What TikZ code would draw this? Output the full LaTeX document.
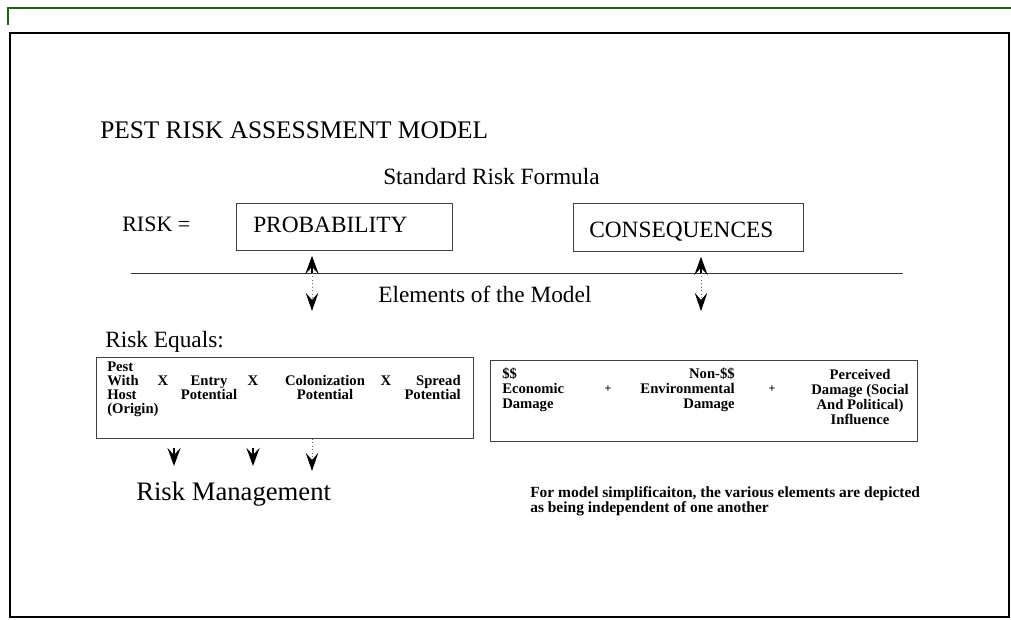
\documentclass[tikz,border=0pt]{standalone}
\usepackage{fontspec}
\setmainfont{Liberation Serif}
\usepackage{tikz}
\usetikzlibrary{arrows.meta}
\definecolor{framegreen}{RGB}{30,100,20}

\begin{document}
\begin{tikzpicture}[x=0.75pt,y=-0.75pt]
\tikzset{>={Stealth[width=3.5mm,length=4.8mm,inset=1.9mm]}}
\tikzstyle{box} =[draw=black!75, line width=0.6pt, inner sep=0pt]
\tikzstyle{big} =[inner sep=0pt, font=\fontsize{17.5}{21}\selectfont]
\tikzstyle{small} =[inner sep=0pt, font=\fontsize{11}{10.5}\selectfont\bfseries]
\tikzstyle{dots} =[dotted, black!60, line width=0.6pt, -{Stealth[width=3.3mm,length=4.8mm,inset=1.9mm,color=black]}]

\useasboundingbox (0,0) rectangle (1011,619);
\draw[framegreen, line width=0.8pt] (8,25) -- (8,8) -- (1011,8);
\draw[line width=0.8pt] (10,33) rectangle (1009,617);
\draw[line width=1.6pt] (10,33) -- (1009,33);

\node[big, anchor=base west, font=\fontsize{19}{23}\selectfont] (title) at (100,138) {PEST RISK ASSESSMENT MODEL};
\node[big, anchor=base west] (formula) at (383,184) {Standard Risk Formula};
\node[big, anchor=base west, font=\fontsize{16.5}{20}\selectfont] (risk) at (122,231) {RISK =};

\node[box, minimum width=162pt, minimum height=35.25pt, anchor=north west] (prob) at (236,203) {};
\node[big, anchor=base west] (probtxt) at (253,232) {PROBABILITY};
\node[box, minimum width=172.5pt, minimum height=36pt, anchor=north west] (cons) at (573,203) {};
\node[big, anchor=base west] (constxt) at (589,237) {CONSEQUENCES};

\coordinate (lineL) at (131,273);
\coordinate (lineR) at (903,273);
\draw[line width=0.7pt, black!80] (lineL) -- (lineR);

\node[big, anchor=base west] (elements) at (378,302) {Elements of the Model};
\node[big, anchor=base west] (equals) at (105,347) {Risk Equals:};

% arrows through the line
\coordinate (pmid) at (312,273);
\coordinate (pdown) at (312,311);
\coordinate (cmid) at (701,273);
\coordinate (cdown) at (701,311);
\draw[->, thick] (pmid) -- ([yshift=-3.75pt]prob.south -| pmid);
\draw[->, thick] (cmid) -- ([yshift=-3.75pt]cons.south -| cmid);
\draw[dots] (pmid) -- (pdown);
\draw[dots] (cmid) -- (cdown);

% the two element boxes
\node[box, minimum width=282.75pt, minimum height=60.75pt, anchor=north west] (pestbox) at (96,357) {};
\node[box, minimum width=320.25pt, minimum height=60.75pt, anchor=north west] (dmgbox) at (490,360) {};

\node[small, align=left, anchor=base west] (pest) at (107,413) {Pest\\With\\Host\\(Origin)};
\node[small, anchor=base] (x1) at (163,385) {X};
\node[small, align=center, anchor=base] (entry) at (209,399) {Entry\\Potential};
\node[small, anchor=base] (x2) at (253,385) {X};
\node[small, align=center, anchor=base] (colon) at (325,399) {Colonization\\Potential};
\node[small, anchor=base] (x3) at (386,385) {X};
\node[small, align=right, anchor=base east] (spread) at (461,399) {Spread\\Potential};

\node[small, align=left, anchor=base west, font=\fontsize{11}{11.25}\selectfont\bfseries] (econ) at (502,408) {\$\$\\Economic\\Damage};
\node[small, anchor=base, font=\fontsize{9}{9}\selectfont\bfseries] (plus1) at (608,392) {+};
\node[small, align=right, anchor=base east, font=\fontsize{11}{11.25}\selectfont\bfseries] (env) at (735,408) {Non-\$\$\\Environmental\\Damage};
\node[small, anchor=base, font=\fontsize{9}{9}\selectfont\bfseries] (plus2) at (772,392) {+};
\node[small, align=center, anchor=base, font=\fontsize{11}{11.25}\selectfont\bfseries] (perc) at (860,424) {Perceived\\Damage (Social\\And Political)\\Influence};

% down to risk management
\coordinate (m1) at (174,448);
\coordinate (m1tip) at (174,466);
\coordinate (m2) at (253,448);
\coordinate (m2tip) at (253,466);
\coordinate (m3tip) at (312,471);
\draw[->, thick] (m1) -- (m1tip);
\draw[->, thick] (m2) -- (m2tip);
\draw[dots] (pestbox.south -| m3tip) -- (m3tip);

\node[anchor=base west, inner sep=0pt, font=\fontsize{20}{24}\selectfont] (mgmt) at (136,500) {Risk Management};
\node[anchor=base west, inner sep=0pt, align=left, font=\fontsize{11.6}{11.25}\selectfont\bfseries] (note) at (530,512) {For model simplificaiton, the various elements are depicted\\as being independent of one another};
\end{tikzpicture}
\end{document}
